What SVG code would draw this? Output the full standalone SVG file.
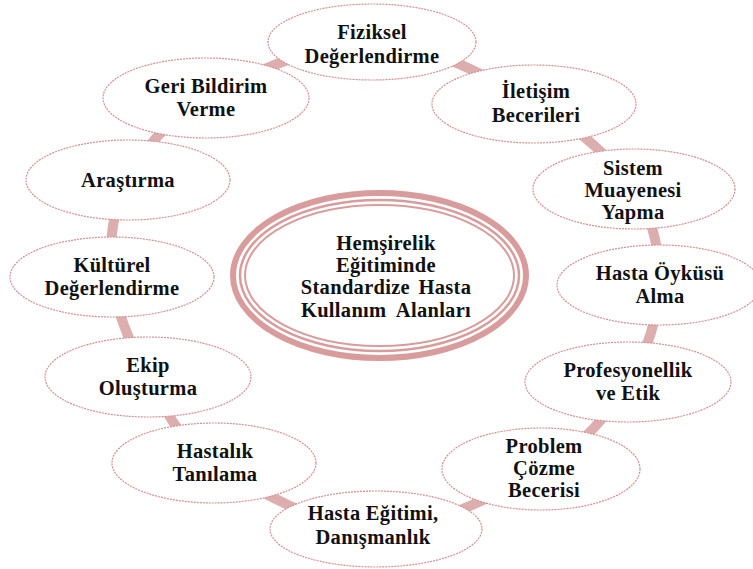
<svg xmlns="http://www.w3.org/2000/svg" width="753" height="569" viewBox="0 0 753 569">
<style>
.bg{fill:#ffffff}
.link{fill:none;stroke:#ddaeae;stroke-width:10}
.node ellipse{fill:#ffffff;stroke:#d48f8f;stroke-width:1.2;stroke-dasharray:2 1}
.ring{fill:none;stroke:#d99c9c}
text{font-family:"Liberation Serif","DejaVu Serif",serif;font-weight:700;font-size:20.5px;letter-spacing:0.3px;fill:#111111;text-anchor:middle}
</style>
<rect class="bg" x="0" y="0" width="753" height="569"/>
<g id="connectors">
<path class="link" d="M374,42 C429,43 492.7,79.3 536,104 C579.3,128.7 613.5,159.8 634,190 C654.5,220.2 660,253 659,285 C658,317 647.2,351.5 628,382 C608.8,412.5 586,443.5 544,468 C502,492.5 431,529.8 376,529 C321,528.2 252,488.3 214,463 C176,437.7 165,408 148,377 C131,346 115.3,309.8 112,277 C108.7,244.2 112.3,209.8 128,180 C143.7,150.2 165,121 206,98 C247,75 319,41 374,42 Z"/>
</g>
<g id="center">
<ellipse cx="379.5" cy="275.5" rx="146.5" ry="82.5" fill="#ffffff" class="ring" stroke-width="6"/>
<ellipse cx="379.5" cy="275.5" rx="139.5" ry="75.5" class="ring" stroke-width="2.5"/>
<ellipse cx="379.5" cy="275.5" rx="134.5" ry="70.5" class="ring" stroke-width="2"/>
<text x="386" y="250">Hemşirelik</text>
<text x="386" y="272">Eğitiminde</text>
<text x="386" y="294" word-spacing="3">Standardize Hasta</text>
<text x="386" y="317" word-spacing="5">Kullanım Alanları</text>
</g>
<g id="n1" class="node"><ellipse cx="372" cy="42" rx="104" ry="38"/><text x="372" y="39">Fiziksel</text><text x="372" y="63">Değerlendirme</text></g>
<g id="n2" class="node"><ellipse cx="534" cy="104" rx="102" ry="39"/><text x="536" y="98">İletişim</text><text x="536" y="122">Becerileri</text></g>
<g id="n3" class="node"><ellipse cx="634" cy="189" rx="101" ry="40"/><text x="633" y="175">Sistem</text><text x="633" y="197">Muayenesi</text><text x="633" y="219">Yapma</text></g>
<g id="n4" class="node"><ellipse cx="659" cy="285" rx="102" ry="40"/><text x="660" y="280">Hasta Öyküsü</text><text x="660" y="303">Alma</text></g>
<g id="n5" class="node"><ellipse cx="628" cy="382" rx="103" ry="40"/><text x="628" y="377">Profesyonellik</text><text x="628" y="400">ve Etik</text></g>
<g id="n6" class="node"><ellipse cx="541" cy="469" rx="99" ry="41"/><text x="544" y="453">Problem</text><text x="544" y="475">Çözme</text><text x="544" y="497">Becerisi</text></g>
<g id="n7" class="node"><ellipse cx="376" cy="529" rx="106" ry="38"/><text x="373" y="520">Hasta Eğitimi,</text><text x="373" y="544">Danışmanlık</text></g>
<g id="n8" class="node"><ellipse cx="214" cy="463" rx="102" ry="40"/><text x="215" y="458">Hastalık</text><text x="215" y="481">Tanılama</text></g>
<g id="n9" class="node"><ellipse cx="148" cy="377" rx="103" ry="40"/><text x="148" y="372">Ekip</text><text x="148" y="395">Oluşturma</text></g>
<g id="n10" class="node"><ellipse cx="112" cy="277" rx="102" ry="40"/><text x="112" y="272">Kültürel</text><text x="112" y="295">Değerlendirme</text></g>
<g id="n11" class="node"><ellipse cx="128" cy="180" rx="102" ry="40"/><text x="128" y="187">Araştırma</text></g>
<g id="n12" class="node"><ellipse cx="206" cy="98" rx="103" ry="40"/><text x="206" y="93">Geri Bildirim</text><text x="206" y="116">Verme</text></g>
</svg>
